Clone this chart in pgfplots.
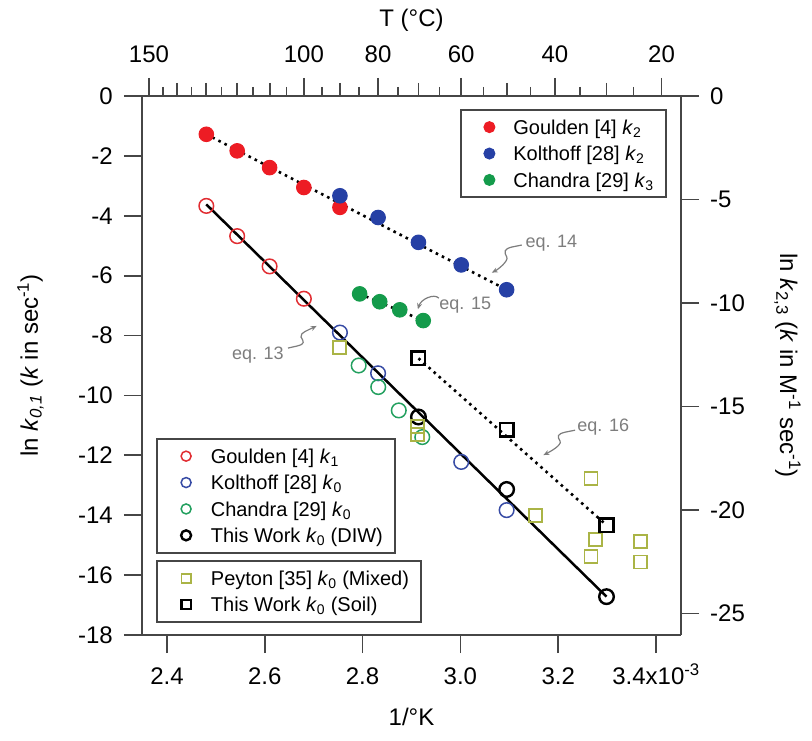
\documentclass[border=0pt]{standalone}
\usepackage{fontspec}
\setmainfont{Liberation Sans}
\usepackage{pgfplots}
\pgfplotsset{compat=1.18}
\usepackage{pgfplotstable}
\usetikzlibrary{arrows.meta}

\definecolor{axcol}{RGB}{70,70,70}
\definecolor{redF}{RGB}{237,28,36}
\definecolor{blueF}{RGB}{38,64,165}
\definecolor{greenF}{RGB}{20,155,75}
\definecolor{redO}{RGB}{225,45,50}
\definecolor{blueO}{RGB}{55,75,165}
\definecolor{greenO}{RGB}{35,160,95}
\definecolor{olive}{RGB}{170,180,70}
\definecolor{annot}{RGB}{125,125,125}

\tikzset{
  dotl/.style={black, line width=2.6pt, dash pattern=on 2.6pt off 4.2pt},
  annarrow/.style={annot, line width=1.2pt, -{Stealth[length=6pt,width=5pt]}},
  anntext/.style={annot, font=\fontsize{18}{20}\selectfont, inner sep=0pt},
  biglabel/.style={font=\fontsize{24}{28}\selectfont},
}

\pgfplotsset{
  base/.style={
    scale only axis, width=539pt, height=539pt,
    xmin=2.349, xmax=3.451, clip=false,
    axis line style={draw=axcol, line width=1.8pt},
    every tick/.style={draw=axcol, line width=1.8pt},
    major tick length=18pt, minor tick length=13pt,
    tick align=outside,
    ticklabel style={font=\fontsize{24}{28}\selectfont, inner sep=0pt},
    /pgf/number format/assume math mode=true,
    legend style={draw=axcol, line width=1.8pt, fill=white, inner xsep=12pt, inner ysep=10pt,
      font=\fontsize{20}{24}\selectfont, row sep=11.9pt,
      nodes={inner sep=0pt, text height=14.5pt, text depth=0pt},
      /tikz/every odd column/.append style={column sep=18pt}},
    legend cell align=left,
  },
}

\pgfplotstableread{
x y
2.4805 -3.67
2.5436 -4.68
2.6099 -5.69
2.6799 -6.77
}\gouldenone
\pgfplotstableread{
x y
2.7537 -7.90
2.8317 -9.26
3.0017 -12.22
3.0945 -13.83
}\kolthoffzero
\pgfplotstableread{
x y
2.792 -9.00
2.832 -9.72
2.874 -10.50
2.922 -11.39
}\chandrazero
\pgfplotstableread{
x y
2.9142 -10.72
3.0945 -13.14
3.2987 -16.72
}\diw
\pgfplotstableread{
x y
2.753 -8.39
2.912 -11.05
2.912 -11.30
3.153 -14.00
3.267 -12.78
3.277 -14.81
3.267 -15.39
3.369 -14.87
3.369 -15.56
}\peyton
\pgfplotstableread{
x y
2.9142 -8.76
3.0945 -11.14
3.2987 -14.33
}\soil
\pgfplotstableread{
x y
2.4805 -1.85
2.5436 -2.65
2.6099 -3.46
2.6799 -4.42
2.7537 -5.38
}\gouldentwo
\pgfplotstableread{
x y
2.7537 -4.82
2.8317 -5.87
2.9142 -7.07
3.0017 -8.16
3.0945 -9.36
}\kolthofftwo
\pgfplotstableread{
x y
2.794 -9.56
2.835 -9.94
2.876 -10.33
2.924 -10.85
}\chandrathree

\begin{document}
\begin{tikzpicture}
\useasboundingbox (-142pt,-105pt) rectangle (670pt,635pt);

% ---------- Axis A: left / bottom, open circles ----------
\begin{axis}[base,
  ymin=-18, ymax=0,
  axis x line*=bottom, axis y line*=left,
  xtick={2.4,2.6,2.8,3.0,3.2,3.4},
  xticklabels={2.4,2.6,2.8,3.0,3.2,3.4x10\textsuperscript{-3}},
  ytick={-18,-16,...,0},
  xticklabel style={anchor=north, text height=17pt, text depth=0pt},
  xticklabel shift=14pt,
  yticklabel style={anchor=east},
  yticklabel shift=11pt,
  xlabel={1/°K},
  ylabel={ln \textit{k}\textsubscript{\textit{0,1}} (\textit{k} in sec\textsuperscript{-1})},
  every axis x label/.style={at={(axis description cs:0.5,-0.1688)}, anchor=base, biglabel},
  every axis y label/.style={at={(axis description cs:-0.193,0.5)}, rotate=90, anchor=base, biglabel},
  legend style={at={(axis description cs:0.026,0.3655)}, anchor=north west},
  legend image code/.code={\path (-16pt,0pt) (5.5pt,0pt); \draw[#1, mark size=5pt] plot coordinates {(0pt,0pt)};},
]
\addplot[black, line width=2.5pt, forget plot] coordinates {(2.4805,-3.62) (3.2987,-16.72)};
\addplot[only marks, mark=o, mark size=7.3pt, line width=1.5pt, color=redO] table {\gouldenone};
\addlegendentry{Goulden [4] \textit{k}\textsubscript{1}}
\addplot[only marks, mark=o, mark size=7.3pt, line width=1.5pt, color=blueO] table {\kolthoffzero};
\addlegendentry{Kolthoff [28] \textit{k}\textsubscript{0}}
\addplot[only marks, mark=o, mark size=7.3pt, line width=1.5pt, color=greenO] table {\chandrazero};
\addlegendentry{Chandra [29] \textit{k}\textsubscript{0}}
\addplot[only marks, mark=o, mark size=7.3pt, line width=2.4pt, color=black] table {\diw};
\addlegendentry{This Work \textit{k}\textsubscript{0} (DIW)}

% annotations
\node[anntext] at (axis cs:2.586,-8.65) {eq. 13};
\draw[annarrow] (axis cs:2.6476,-8.417) -- ++(9pt,2pt) .. controls +(8pt,2pt) and +(3pt,-5pt) .. ++(4pt,9pt) .. controls +(-2pt,4pt) and +(-6pt,-3pt) .. ++(15.6pt,11.1pt);
\node[anntext] at (axis cs:3.186,-4.92) {eq. 14};
\draw[annarrow] (axis cs:3.1255,-4.977) -- ++(-10pt,-2pt) .. controls +(-8pt,-2pt) and +(-3pt,5pt) .. ++(-5pt,-10pt) .. controls +(2pt,-4pt) and +(6pt,3pt) .. ++(-15pt,-15.6pt);
\node[anntext] at (axis cs:3.010,-6.98) {eq. 15};
\draw[annarrow] (axis cs:2.956,-6.75) .. controls +(-5pt,5pt) and +(3pt,10pt) .. ++(-21pt,-11.1pt);
\node[anntext] at (axis cs:3.292,-11.04) {eq. 16};
\draw[annarrow] (axis cs:3.2345,-11.16) -- ++(-10pt,-2pt) .. controls +(-8pt,-2pt) and +(-3pt,5pt) .. ++(-5pt,-9pt) .. controls +(2pt,-4pt) and +(6pt,3pt) .. ++(-16.7pt,-13.9pt);
\end{axis}

% ---------- Axis C: squares ----------
\begin{axis}[base, hide axis,
  ymin=-18, ymax=0,
  legend style={at={(axis description cs:0.026,0.139)}, anchor=north west},
  legend image code/.code={\path (-16pt,0pt) (5.5pt,0pt); \draw[#1, mark size=4.6pt] plot coordinates {(0pt,0pt)};},
]
\addplot[dotl, forget plot] coordinates {(2.9142,-8.76) (3.2987,-14.33)};
\addplot[only marks, mark=square, mark size=6.5pt, line width=1.8pt, color=olive] table {\peyton};
\addlegendentry{Peyton [35] \textit{k}\textsubscript{0} (Mixed)}
\addplot[only marks, mark=square, mark size=6.8pt, line width=2.5pt, color=black] table {\soil};
\addlegendentry{This Work \textit{k}\textsubscript{0} (Soil)}
\end{axis}

% ---------- Axis B: right / top, filled circles ----------
\begin{axis}[base,
  ymin=-26.04, ymax=0,
  axis x line*=top, axis y line*=right,
  xtick={2.36323,2.67989,2.83166,3.00165,3.19336,3.41122},
  xticklabels={150,100,80,60,40,20},
  minor xtick={2.42043,2.48047,2.54356,2.60994,2.75368,2.91418,3.09454,3.29870},
  extra x ticks={2.39149,2.45008,2.51162,2.57632,2.64445,2.71628,2.79213,2.87233,2.95727,3.04739,3.14317,3.24517,3.35402},
  extra x tick labels={},
  extra x tick style={major tick length=9pt},
  ytick={-25,-20,...,0},
  xticklabel style={anchor=south, text height=17pt, text depth=0pt},
  xticklabel shift=15pt,
  yticklabel style={anchor=west},
  yticklabel shift=11pt,
  xlabel={T (°C)},
  ylabel={ln \textit{k}\textsubscript{2,3} (\textit{k} in M\textsuperscript{-1} sec\textsuperscript{-1})},
  every axis x label/.style={at={(axis description cs:0.5,1.129)}, anchor=base, biglabel},
  every axis y label/.style={at={(axis description cs:1.1837,0.5)}, rotate=-90, anchor=base, biglabel},
  legend style={at={(axis description cs:0.59,0.9759)}, anchor=north west},
  legend image code/.code={\path (-16pt,0pt) (5.5pt,0pt); \draw[#1, mark size=5.5pt] plot coordinates {(0pt,0pt)};},
]
\addplot[dotl, forget plot] coordinates {(2.4805,-1.85) (3.0945,-9.36)};
\addplot[dotl, forget plot] coordinates {(2.794,-9.56) (2.924,-10.85)};
\addplot[only marks, mark=*, mark size=7.3pt, line width=1pt, color=redF] table {\gouldentwo};
\addlegendentry{Goulden [4] \textit{k}\textsubscript{2}}
\addplot[only marks, mark=*, mark size=7.3pt, line width=1pt, color=blueF] table {\kolthofftwo};
\addlegendentry{Kolthoff [28] \textit{k}\textsubscript{2}}
\addplot[only marks, mark=*, mark size=7.3pt, line width=1pt, color=greenF] table {\chandrathree};
\addlegendentry{Chandra [29] \textit{k}\textsubscript{3}}
\end{axis}
\end{tikzpicture}
\end{document}
